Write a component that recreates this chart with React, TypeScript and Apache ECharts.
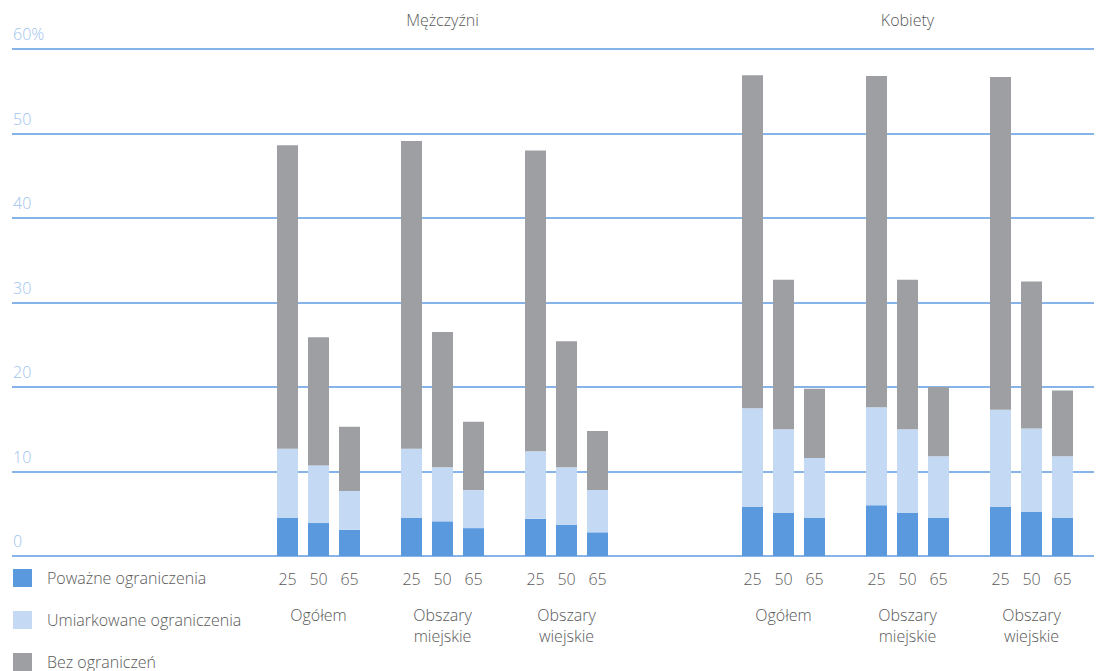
import React, { useEffect, useRef } from 'react';
import * as echarts from 'echarts';

// Grouping of the bars: sex -> area -> age
const sexes = ['Mężczyźni', 'Kobiety'];
const areas = ['Ogółem', 'Obszary\nmiejskie', 'Obszary\nwiejskie'];
const ages = ['25', '50', '65'];
const seriesNames = ['Poważne ograniczenia', 'Umiarkowane ograniczenia', 'Bez ograniczeń'];
const yTicks = [0, 10, 20, 30, 40, 50, 60];

// Segment values (%), ordered Ogółem 25/50/65, miejskie 25/50/65, wiejskie 25/50/65
const severeMen = [4.5, 3.9, 3.1, 4.5, 4.1, 3.3, 4.4, 3.7, 2.8];
const moderateMen = [8.2, 6.8, 4.6, 8.2, 6.4, 4.5, 8.0, 6.8, 5.0];
const noneMen = [35.9, 15.2, 7.6, 36.4, 16.0, 8.1, 35.6, 14.9, 7.0];

const severeWomen = [5.8, 5.1, 4.5, 6.0, 5.1, 4.5, 5.8, 5.2, 4.5];
const moderateWomen = [11.7, 9.9, 7.1, 11.6, 9.9, 7.3, 11.5, 9.9, 7.3];
const noneWomen = [39.4, 17.7, 8.2, 39.2, 17.7, 8.2, 39.4, 17.4, 7.8];

const COLORS = ['#5b99df', '#c4daf4', '#9e9fa3'];
const TEXT = '#595959';
const FONT = "'Open Sans', 'Noto Sans', sans-serif";

type Slot = { si: number; ai: number; gi: number; i: number } | null;

// Lay out category slots: one empty slot between areas, four between sexes
function buildSlots(): Slot[] {
  const out: Slot[] = [];
  sexes.forEach((_, si) => {
    if (si > 0) for (let k = 0; k < 4; k++) out.push(null);
    areas.forEach((_, ai) => {
      if (ai > 0) out.push(null);
      ages.forEach((_, gi) => out.push({ si, ai, gi, i: ai * ages.length + gi }));
    });
  });
  return out;
}

const labelBase = {
  interval: 0,
  fontFamily: FONT,
  fontSize: 16,
  fontWeight: 300,
  color: TEXT,
};

export default function App() {
  const ref = useRef<HTMLDivElement>(null);

  useEffect(() => {
    if (!ref.current) return;
    const chart = echarts.init(ref.current, undefined, { renderer: 'svg' });

    const slots = buildSlots();
    const cats = slots.map((_, i) => 'c' + i);
    const bySex = [
      [severeMen, moderateMen, noneMen],
      [severeWomen, moderateWomen, noneWomen],
    ];
    const seriesData = seriesNames.map((_, k) =>
      slots.map((s) => (s ? bySex[s.si][k][s.i] : '-'))
    );

    const top = 49;
    const bottom = 115;
    const barGrid = {
      left: 272,
      width: 31 * slots.length,
      top,
      bottom,
      containLabel: false,
      outerBoundsMode: 'none',
    };

    chart.setOption({
      animation: false,
      textStyle: { fontFamily: FONT },
      legend: {
        data: seriesNames,
        orient: 'vertical',
        left: 13,
        top: 569,
        padding: 0,
        icon: 'rect',
        itemWidth: 19,
        itemHeight: 18,
        itemGap: 24,
        selectedMode: false,
        textStyle: {
          fontFamily: FONT,
          fontSize: 16,
          fontWeight: 300,
          color: TEXT,
          lineHeight: 18,
          padding: [0, 0, 0, 10],
        },
      },
      grid: [
        { left: 12, right: 2, top, bottom, containLabel: false, outerBoundsMode: 'none' },
        barGrid,
        barGrid,
      ],
      xAxis: [
        { gridIndex: 0, type: 'category', data: ['x'], show: false },
        // age labels under each bar
        {
          gridIndex: 1,
          type: 'category',
          position: 'bottom',
          data: cats,
          axisLine: { show: false },
          axisTick: { show: false },
          axisLabel: {
            ...labelBase,
            margin: 15,
            lineHeight: 16,
            formatter: (_: string, idx: number) => {
              const s = slots[idx];
              return s ? ages[s.gi] : '';
            },
          },
        },
        // area names under each group of three bars
        {
          gridIndex: 2,
          type: 'category',
          position: 'bottom',
          data: cats,
          axisLine: { show: false },
          axisTick: { show: false },
          axisLabel: {
            ...labelBase,
            margin: 48,
            lineHeight: 21,
            formatter: (_: string, idx: number) => {
              const s = slots[idx];
              return s && s.gi === 1 ? areas[s.ai] : '';
            },
          },
        },
        // sex headings above the plot
        {
          gridIndex: 2,
          type: 'category',
          position: 'top',
          data: cats,
          axisLine: { show: false },
          axisTick: { show: false },
          axisLabel: {
            ...labelBase,
            margin: 21,
            lineHeight: 16,
            formatter: (_: string, idx: number) => {
              const s = slots[idx];
              return s && s.gi === 1 && s.ai === 1 ? sexes[s.si] : '';
            },
          },
        },
      ],
      yAxis: [
        {
          gridIndex: 0,
          type: 'value',
          min: yTicks[0],
          max: yTicks[yTicks.length - 1],
          interval: 10,
          axisLine: { show: false },
          axisTick: { show: false },
          splitLine: { show: true, lineStyle: { color: '#86b3e8', width: 2 } },
          axisLabel: {
            inside: true,
            margin: 1,
            verticalAlign: 'bottom',
            padding: [0, 0, 7, 0],
            fontFamily: FONT,
            fontSize: 16,
            fontWeight: 300,
            color: '#9dc2ee',
            formatter: (v: number) => (v === yTicks[yTicks.length - 1] ? v + '%' : String(v)),
          },
        },
        {
          gridIndex: 1,
          type: 'value',
          min: yTicks[0],
          max: yTicks[yTicks.length - 1],
          show: false,
          splitLine: { show: false },
        },
        {
          gridIndex: 2,
          type: 'value',
          min: yTicks[0],
          max: yTicks[yTicks.length - 1],
          show: false,
          splitLine: { show: false },
        },
      ],
      series: seriesNames.map((name, k) => ({
        name,
        type: 'bar',
        stack: 'total',
        xAxisIndex: 1,
        yAxisIndex: 1,
        barWidth: 21,
        itemStyle: { color: COLORS[k] },
        emphasis: { disabled: true },
        data: seriesData[k],
      })),
    });

    return () => chart.dispose();
  }, []);

  return (
    <div
      ref={ref}
      style={{ position: 'fixed', left: 0, top: 0, width: 1096, height: 671, background: '#fff' }}
    />
  );
}
